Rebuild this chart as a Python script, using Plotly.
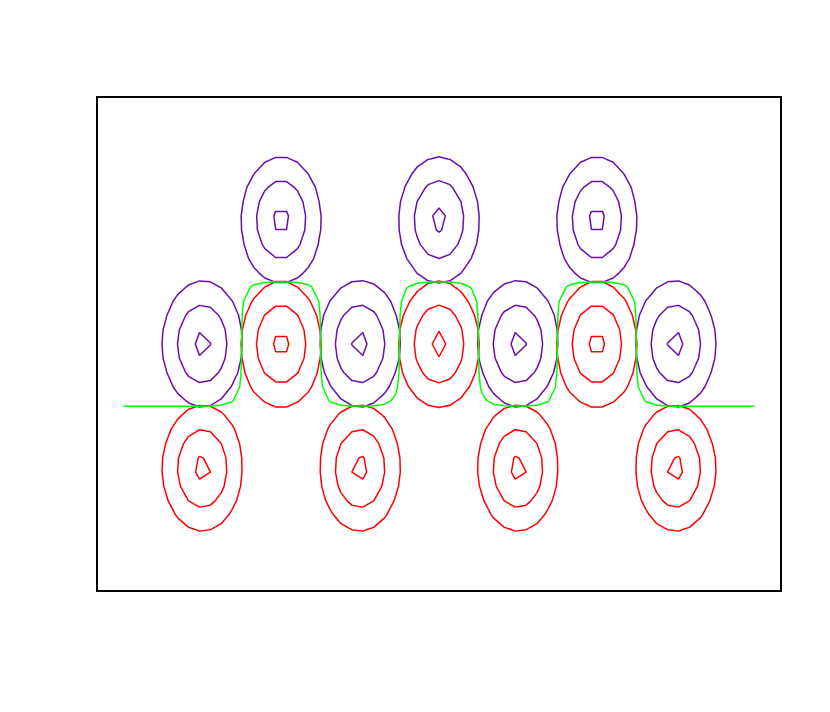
import numpy as np
import plotly.graph_objects as go

# Centres of the two classes (data units)
purple_x = [1.0, 2.0, 3.0, 0.5, 1.5, 2.5, 3.5]
purple_y = [1.0, 1.0, 1.0, 0.0, 0.0, 0.0, 0.0]
red_x = [1.0, 2.0, 3.0, 0.5, 1.5, 2.5, 3.5]
red_y = [0.0, 0.0, 0.0, -1.0, -1.0, -1.0, -1.0]

# Bump spread (x, y) and contour levels
spread_x = 0.5
spread_y = 1.0
sharpness = 5.0
level_start, level_end, level_step = 0.2835, 0.95, 0.33

# Coarse evaluation grid
gx = np.linspace(0.0, 4.0, 59)
gy = np.linspace(-1.83, 1.83, 33)
X, Y = np.meshgrid(gx, gy)


def density(cx, cy):
    z = np.zeros_like(X)
    for a, b in zip(cx, cy):
        u = (X - a) / spread_x
        v = (Y - b) / spread_y
        z += np.exp(-sharpness * (u ** 2 + v ** 2))
    return z


P = density(purple_x, purple_y)
R = density(red_x, red_y)
D = P - R

fig = go.Figure()
for z, col in [(P, "#6a0dad"), (R, "#ff0000")]:
    fig.add_trace(go.Contour(
        x=gx, y=gy, z=z,
        autocontour=False,
        contours=dict(start=level_start, end=level_end, size=level_step,
                      coloring="none", showlabels=False),
        line=dict(color=col, width=1.5, smoothing=0),
        showscale=False, hoverinfo="skip",
    ))

fig.add_trace(go.Contour(
    x=gx, y=gy, z=D,
    autocontour=False,
    contours=dict(start=0, end=0.5, size=1, coloring="none", showlabels=False),
    line=dict(color="#00ff00", width=1.5, smoothing=0),
    showscale=False, hoverinfo="skip",
))

xpad = 0.04 * (gx[-1] - gx[0])
ypad = 0.04 * (gy[-1] - gy[0])
axis_common = dict(showgrid=False, zeroline=False, showticklabels=False,
                   ticks="", showline=True, mirror=True,
                   linecolor="black", linewidth=2)
fig.update_layout(
    width=830, height=712,
    margin=dict(l=90, r=58, t=90, b=130),
    paper_bgcolor="white", plot_bgcolor="white",
    showlegend=False,
    xaxis=dict(range=[gx[0] - xpad, gx[-1] + xpad], **axis_common),
    yaxis=dict(range=[gy[0] - ypad, gy[-1] + ypad], **axis_common),
)

fig.write_html("out.html")
